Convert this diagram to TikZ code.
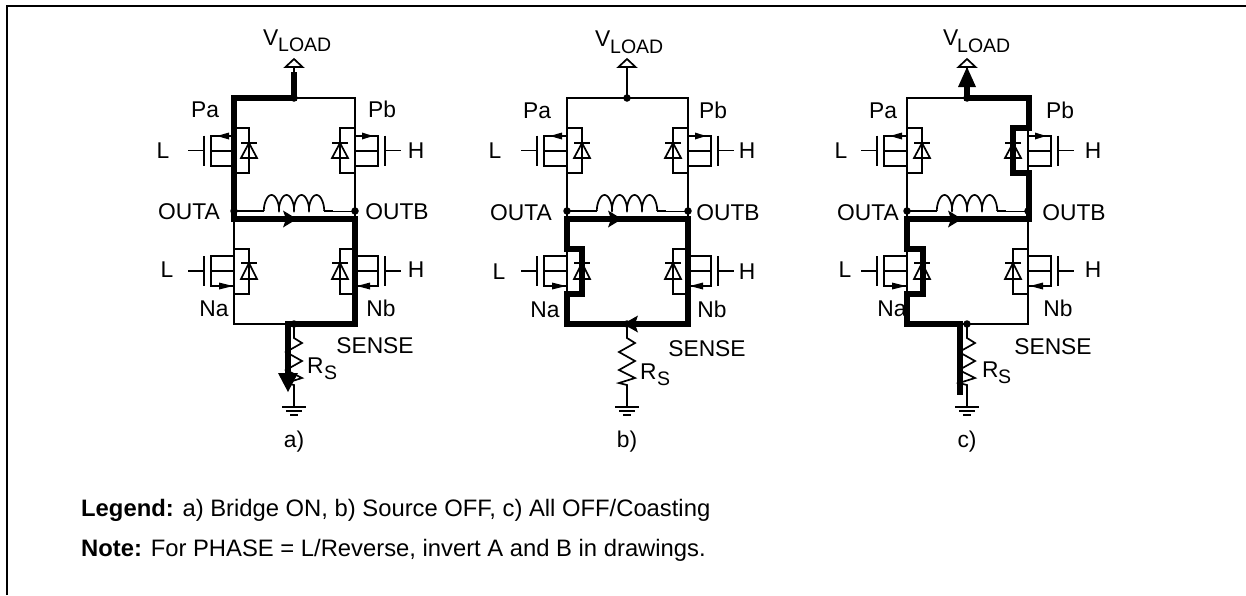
\documentclass[tikz,border=0pt]{standalone}
\usepackage{fontspec}
\setmainfont{Liberation Sans}
\tikzset{
  wire/.style={line width=1.7pt,line join=miter,line cap=butt},
  heavy/.style={line width=6pt,line join=miter,line cap=butt},
  lab/.style={anchor=base,inner sep=0pt,font=\fontsize{22.8}{26}\selectfont},
  labw/.style={anchor=base west,inner sep=0pt,font=\fontsize{22.8}{26}\selectfont},
  subl/.style={anchor=base west,inner sep=0pt,font=\fontsize{19.5}{23}\selectfont},
  note/.style={anchor=base west,inner sep=0pt,font=\fontsize{23.8}{28}\selectfont},
  dot/.style={circle,fill=black,inner sep=0pt,minimum size=7.5pt},
}
% FET: #1 origin on rail, #2 mirror (1 or -1), #3 arrow base, #4 arrow tip, #5 channel line top offset
\newcommand{\fetsym}[5]{%
  \begin{scope}[shift={(#1)},xscale=#2]
    \draw[wire] (0,0) -- (15,0) -- (15,45) -- (0,45);
    \draw[wire] (7,15) -- (23,15);
    \draw[wire] (15,15) -- (7,30) -- (23,30) -- cycle;
    \draw[wire] (0,#5) -- (-23,#5) -- (-23,38) -- (0,38);
    \draw[wire] (0,23) -- (-23,23);
    \draw[wire] (-30,7.5) -- (-30,37.5);
    \draw[wire] (-30,22.5) -- (-46,22.5);
    \fill (#3,#5-3.5) -- (#4,#5) -- (#3,#5+3.5) -- cycle;
  \end{scope}}
\newcommand{\fetlow}[5]{%
  \begin{scope}[shift={(#1)},xscale=#2]
    \draw[wire] (0,0) -- (15,0) -- (15,45) -- (0,45);
    \draw[wire] (7,14) -- (23,14);
    \draw[wire] (15,14) -- (7,30) -- (23,30) -- cycle;
    \draw[wire] (0,22) -- (-23,22);
    \draw[wire] (0,7) -- (-23,7) -- (-23,37) -- (0,37);
    \draw[wire] (-30,7) -- (-30,37);
    \draw[wire] (-30,22) -- (-46,22);
    \fill (#3,37-3.5) -- (#4,37) -- (#3,37+3.5) -- cycle;
  \end{scope}}
% one bridge, drawn at the coordinates of bridge a), shifted by #1
\newcommand{\bridge}[3]{%
  \begin{scope}[shift={(#1,0)},name prefix=#2-]
    \coordinate (term) at (294,67);
    \coordinate (top) at (294,98);
    \coordinate (tl) at (234,98);
    \coordinate (tr) at (355,98);
    \coordinate (oa) at (234,211);
    \coordinate (ob) at (355,211);
    \coordinate (ia) at (234,219);
    \coordinate (ib) at (355,219);
    \coordinate (bl) at (234,324);
    \coordinate (br) at (355,324);
    \coordinate (sn) at (294,324);
    \coordinate (rt) at (294,338);
    \coordinate (rb) at (294,385);
    \coordinate (gn) at (294,407);
    % rails
    \draw[wire] (oa) -- (tl) -- (tr) -- (ob);
    \draw[wire] (oa) -- (bl) -- (br) -- (ob);
    \draw[wire] (top) -- (term);
    \draw[wire,fill=white] (term) -- (285.5,67) -- (294,59) -- (302.5,67) -- cycle;
    % transistors
    \fetsym{234,128}{1}{-5}{-17}{8}
    \fetsym{355,128}{-1}{-7}{-18}{8}
    \fetlow{234,249}{1}{-15}{-1}{7}
    \fetlow{355,249}{-1}{-15}{-2}{7}
    % inductor
    \draw[wire] (oa) -- (264,211);
    \draw[line width=1.7pt,domain=0:1440,samples=145,variable=\t]
      plot ({264+\t/24-2.8*sin(\t)},{203+8*cos(\t)});
    \draw[wire] (324,211) -- (333,211);
    \draw[line width=0.8pt] (333,211) -- (ob);
    % sense resistor and ground
    \draw[wire] (sn) -- (rt) -- (302,343) -- (286,352) -- (302,361) -- (286,370) -- (302,378) -- (286,383) -- (rb) -- (gn);
    \draw[wire] (282,407) -- (306,407);
    \draw[wire] (286,411) -- (302,411);
    \draw[wire] (290,415) -- (298,415);
    #3
    \node[dot] (dt) at (top) {};
    \node[dot] (da) at (oa) {};
    \node[dot] (db) at (ob) {};
    \node[dot] (ds) at (sn) {};
  \end{scope}}
\begin{document}
\begin{tikzpicture}[x=1pt,y=-1pt]
\useasboundingbox (0,0) rectangle (1246,595);
\draw[line width=2pt] (7,595) -- (7,5.5) -- (1246,5.5);
% a)
\bridge{0}{a}{%
  \draw[heavy] (294,72) -- (top) -- (tl) -- (ia) -- (ib) -- (br) -- (288,324) -- (288,376);
  \fill (283,210.5) -- (297,219) -- (283,227.5) -- (286,219) -- cycle;
  \fill (278,373) -- (298,373) -- (288,392) -- cycle;
}
% b)
\bridge{333}{b}{%
  \draw[heavy] (bl) -- (234,294) -- (249,294) -- (249,249) -- (234,249) -- (ia) -- (ib) -- (br) -- cycle;
  \fill (275,210.5) -- (289,219) -- (275,227.5) -- (278,219) -- cycle;
  \fill (305,315.5) -- (290,324) -- (305,332.5) -- (302,324) -- cycle;
}
% c)
\bridge{673}{c}{%
  \draw[heavy] (294,82) -- (top) -- (356,98) -- (356,128) -- (340,128) -- (340,173) -- (356,173) -- (356,219) -- (ia) -- (234,249) -- (249.5,249) -- (249.5,294) -- (234,294) -- (bl) -- (287,324) -- (287,395);
  \fill (275,210.5) -- (289,219) -- (275,227.5) -- (278,219) -- cycle;
  \fill (285,87) -- (294,67) -- (303,87) -- cycle;
}
% labels a)
\node[labw] (av) at (263,45) {V};
\node[subl] (avs) at (278,51) {LOAD};
\node[lab] (apa) at (205,117) {Pa};
\node[lab] (apb) at (382,117) {Pb};
\node[lab] (al1) at (163,158) {L};
\node[lab] (ah1) at (416,158) {H};
\node[lab] (aoa) at (189,219) {OUTA};
\node[lab] (aob) at (397,219) {OUTB};
\node[lab] (al2) at (167,277) {L};
\node[lab] (ah2) at (416,277) {H};
\node[lab] (ana) at (214,316) {Na};
\node[lab] (anb) at (381,316) {Nb};
\node[lab] (ase) at (375,353) {SENSE};
\node[labw] (ar) at (307,373) {R};
\node[subl] (ars) at (324,379) {S};
\node[lab] (acap) at (294,447) {a)};
% labels b)
\node[labw] (bv) at (595,46) {V};
\node[subl] (bvs) at (610,53) {LOAD};
\node[lab] (bpa) at (537,118) {Pa};
\node[lab] (bpb) at (713,118) {Pb};
\node[lab] (bl1) at (495,158) {L};
\node[lab] (bh1) at (747,158) {H};
\node[lab] (boa) at (521,220) {OUTA};
\node[lab] (bob) at (728,220) {OUTB};
\node[lab] (bl2) at (499,279) {L};
\node[lab] (bh2) at (747,279) {H};
\node[lab] (bna) at (545,317) {Na};
\node[lab] (bnb) at (712,317) {Nb};
\node[lab] (bse) at (707,356) {SENSE};
\node[labw] (br) at (640,379) {R};
\node[subl] (brs) at (657,385) {S};
\node[lab] (bcap) at (627,447) {b)};
% labels c)
\node[labw] (cv) at (943,45) {V};
\node[subl] (cvs) at (957,52) {LOAD};
\node[lab] (cpa) at (883,118) {Pa};
\node[lab] (cpb) at (1060,118) {Pb};
\node[lab] (cl1) at (841,158) {L};
\node[lab] (ch1) at (1093,158) {H};
\node[lab] (coa) at (868,220) {OUTA};
\node[lab] (cob) at (1074,220) {OUTB};
\node[lab] (cl2) at (845,277) {L};
\node[lab] (ch2) at (1093,277) {H};
\node[lab] (cna) at (892,316) {Na};
\node[lab] (cnb) at (1058,316) {Nb};
\node[lab] (cse) at (1053,354) {SENSE};
\node[labw] (cr) at (982,377) {R};
\node[subl] (crs) at (998,383) {S};
\node[lab] (ccap) at (967,447) {c)};
% notes
\node[note] (legend) at (81,516) {\textbf{Legend:} a) Bridge ON, b) Source OFF, c) All OFF/Coasting};
\node[note] (notes) at (81,556) {\textbf{Note:} For PHASE = L/Reverse, invert A and B in drawings.};
\end{tikzpicture}
\end{document}
